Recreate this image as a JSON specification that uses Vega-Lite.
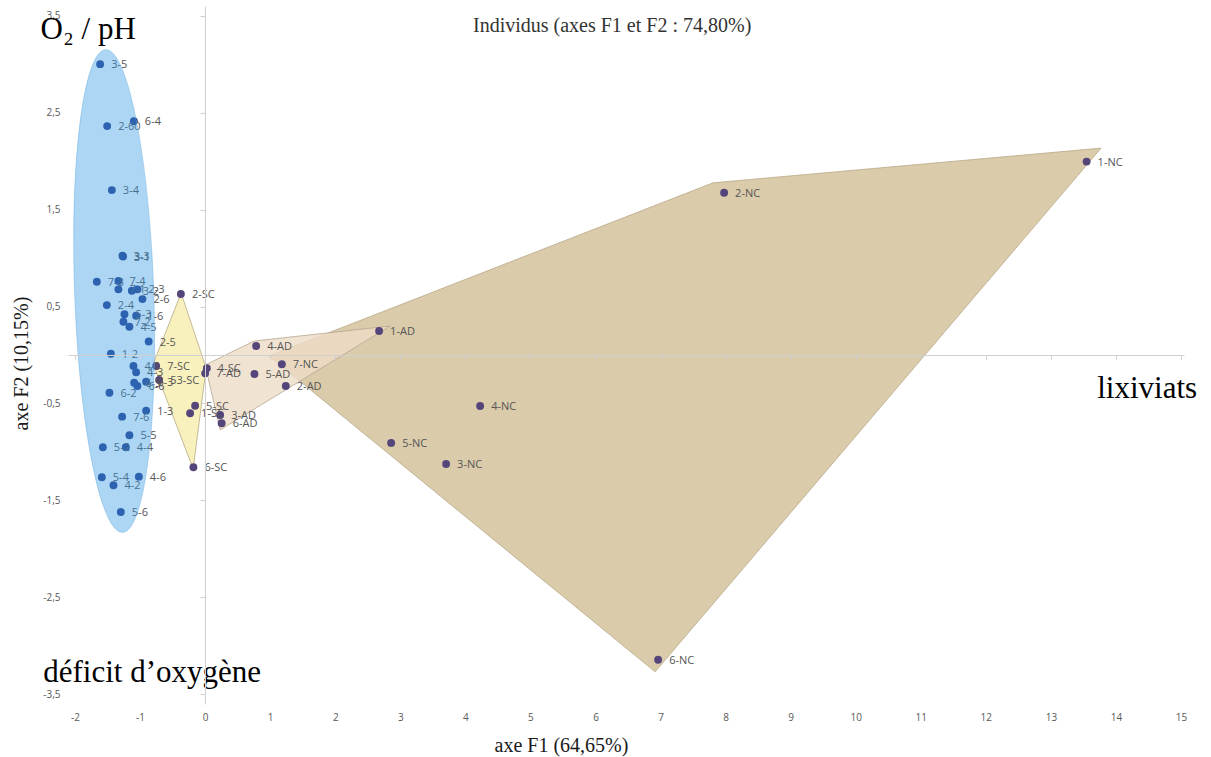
{
  "$schema": "https://vega.github.io/schema/vega-lite/v6.json",
  "width": 1116,
  "height": 698,
  "autosize": "none",
  "padding": {"left": 68, "top": 6, "right": 27, "bottom": 53},
  "background": "white",
  "config": {"view": {"stroke": null}, "axis": {"grid": false}},
  "datasets": {
    "points": [
      {"label": "3-5", "type": "sol", "F1": -1.614, "F2": 3.000},
      {"label": "2-60", "type": "sol", "F1": -1.506, "F2": 2.361},
      {"label": "6-4", "type": "sol", "F1": -1.096, "F2": 2.412},
      {"label": "3-4", "type": "sol", "F1": -1.434, "F2": 1.701},
      {"label": "3-3", "type": "sol", "F1": -1.271, "F2": 1.024},
      {"label": "3-1", "type": "sol", "F1": -1.262, "F2": 1.016},
      {"label": "7-3", "type": "sol", "F1": -1.665, "F2": 0.756},
      {"label": "7-4", "type": "sol", "F1": -1.333, "F2": 0.763},
      {"label": "7-1", "type": "sol", "F1": -1.333, "F2": 0.677},
      {"label": "3-2", "type": "sol", "F1": -1.127, "F2": 0.663},
      {"label": "2-3", "type": "sol", "F1": -1.040, "F2": 0.677},
      {"label": "2-6", "type": "sol", "F1": -0.964, "F2": 0.577},
      {"label": "2-4", "type": "sol", "F1": -1.511, "F2": 0.515},
      {"label": "5-3", "type": "sol", "F1": -1.240, "F2": 0.420},
      {"label": "1-6", "type": "sol", "F1": -1.061, "F2": 0.405},
      {"label": "7-2", "type": "sol", "F1": -1.256, "F2": 0.343},
      {"label": "4-5", "type": "sol", "F1": -1.164, "F2": 0.292},
      {"label": "2-5", "type": "sol", "F1": -0.868, "F2": 0.139},
      {"label": "1-2", "type": "sol", "F1": -1.449, "F2": 0.013},
      {"label": "4-1", "type": "sol", "F1": -1.102, "F2": -0.113},
      {"label": "4-3", "type": "sol", "F1": -1.061, "F2": -0.178},
      {"label": "6-3", "type": "sol", "F1": -0.907, "F2": -0.275},
      {"label": "6-5", "type": "sol", "F1": -1.091, "F2": -0.286},
      {"label": "6-6", "type": "sol", "F1": -1.041, "F2": -0.320},
      {"label": "6-2", "type": "sol", "F1": -1.471, "F2": -0.389},
      {"label": "1-3", "type": "sol", "F1": -0.907, "F2": -0.574},
      {"label": "7-6", "type": "sol", "F1": -1.276, "F2": -0.636},
      {"label": "5-5", "type": "sol", "F1": -1.164, "F2": -0.828},
      {"label": "5-2", "type": "sol", "F1": -1.572, "F2": -0.952},
      {"label": "4-4", "type": "sol", "F1": -1.219, "F2": -0.952},
      {"label": "5-4", "type": "sol", "F1": -1.588, "F2": -1.261},
      {"label": "4-2", "type": "sol", "F1": -1.409, "F2": -1.343},
      {"label": "4-6", "type": "sol", "F1": -1.019, "F2": -1.255},
      {"label": "5-6", "type": "sol", "F1": -1.296, "F2": -1.619},
      {"label": "2-SC", "type": "lixiviat", "F1": -0.373, "F2": 0.629},
      {"label": "7-SC", "type": "lixiviat", "F1": -0.753, "F2": -0.113},
      {"label": "53-SC", "type": "lixiviat", "F1": -0.707, "F2": -0.258},
      {"label": "4-SC", "type": "lixiviat", "F1": 0.026, "F2": -0.137},
      {"label": "5-SC", "type": "lixiviat", "F1": -0.154, "F2": -0.523},
      {"label": "1-SC", "type": "lixiviat", "F1": -0.231, "F2": -0.601},
      {"label": "6-SC", "type": "lixiviat", "F1": -0.180, "F2": -1.158},
      {"label": "1-AD", "type": "lixiviat", "F1": 2.674, "F2": 0.247},
      {"label": "4-AD", "type": "lixiviat", "F1": 0.784, "F2": 0.093},
      {"label": "7-AD", "type": "lixiviat", "F1": 0.000, "F2": -0.189},
      {"label": "5-AD", "type": "lixiviat", "F1": 0.758, "F2": -0.196},
      {"label": "2-AD", "type": "lixiviat", "F1": 1.240, "F2": -0.320},
      {"label": "3-AD", "type": "lixiviat", "F1": 0.231, "F2": -0.619},
      {"label": "6-AD", "type": "lixiviat", "F1": 0.254, "F2": -0.704},
      {"label": "1-NC", "type": "lixiviat", "F1": 13.549, "F2": 1.995},
      {"label": "2-NC", "type": "lixiviat", "F1": 7.977, "F2": 1.673},
      {"label": "7-NC", "type": "lixiviat", "F1": 1.179, "F2": -0.096},
      {"label": "4-NC", "type": "lixiviat", "F1": 4.227, "F2": -0.526},
      {"label": "5-NC", "type": "lixiviat", "F1": 2.859, "F2": -0.907},
      {"label": "3-NC", "type": "lixiviat", "F1": 3.704, "F2": -1.124},
      {"label": "6-NC", "type": "lixiviat", "F1": 6.963, "F2": -3.144}
    ],
    "hulls": [
      {"grp": "NC", "ord": 1, "F1": 0.984, "F2": -0.010},
      {"grp": "NC", "ord": 2, "F1": 7.808, "F2": 1.776},
      {"grp": "NC", "ord": 3, "F1": 13.772, "F2": 2.134},
      {"grp": "NC", "ord": 4, "F1": 6.917, "F2": -3.268},
      {"grp": "AD", "ord": 1, "F1": 0.000, "F2": -0.103},
      {"grp": "AD", "ord": 2, "F1": 0.753, "F2": 0.144},
      {"grp": "AD", "ord": 3, "F1": 2.844, "F2": 0.299},
      {"grp": "AD", "ord": 4, "F1": 0.231, "F2": -0.773},
      {"grp": "SC", "ord": 1, "F1": -0.369, "F2": 0.639},
      {"grp": "SC", "ord": 2, "F1": 0.015, "F2": -0.134},
      {"grp": "SC", "ord": 3, "F1": -0.184, "F2": -1.175},
      {"grp": "SC", "ord": 4, "F1": -0.799, "F2": -0.093}
    ],
    "ellipse": [{"grp": "sols", "F1": -1.399, "F2": 0.660}],
    "notes": [
      {"text": "O₂ / pH", "F1": -1.798, "F2": 3.258},
      {"text": "déficit d’oxygène", "F1": -0.815, "F2": -3.371},
      {"text": "lixiviats", "F1": 14.479, "F2": -0.443}
    ],
    "heading": [
      {"text": "Individus (axes F1 et F2 : 74,80%)", "F1": 6.256, "F2": 3.330}
    ]
  },
  "resolve": {"axis": {"x": "independent", "y": "independent"}},
  "layer": [
    {
      "data": {"name": "hulls"},
      "transform": [{"filter": "datum.grp === 'NC'"}],
      "mark": {"type": "line", "interpolate": "linear-closed", "fill": "#dacbab", "fillOpacity": 1, "stroke": "#b9a888", "strokeWidth": 0.8},
      "encoding": {
        "x": {"field": "F1", "type": "quantitative", "scale": {"domain": [-2.108, 15.046], "nice": false, "zero": false},
          "axis": {"orient": "bottom", "domain": false, "ticks": false, "grid": false,
            "values": [-2, -1, 0, 1, 2, 3, 4, 5, 6, 7, 8, 9, 10, 11, 12, 13, 14, 15],
            "labelExpr": "(datum.value < 0 ? '-' : '') + format(abs(datum.value), 'd')",
            "labelFont": "Open Sans", "labelFontSize": 10, "labelColor": "#595959", "labelPadding": 8, "labelFlush": false, "labelOverlap": false,
            "title": "axe F1 (64,65%)", "titleFont": "Liberation Serif", "titleFontSize": 20, "titleFontWeight": "normal", "titleColor": "#1a1a1a",
            "titleX": 493, "titleY": 47, "titleAlign": "center", "titleBaseline": "alphabetic"}},
        "y": {"field": "F2", "type": "quantitative", "scale": {"domain": [-3.6, 3.6], "nice": false, "zero": false},
          "axis": {"orient": "left", "domain": false, "ticks": false, "grid": false,
            "values": [-3.5, -2.5, -1.5, -0.5, 0.5, 1.5, 2.5, 3.5],
            "labelExpr": "(datum.value < 0 ? '-' : '') + replace(format(abs(datum.value), '.1f'), '.', ',')",
            "labelFont": "Open Sans", "labelFontSize": 10, "labelColor": "#595959", "labelPadding": 8, "labelFlush": false, "labelOverlap": false,
            "title": "axe F2 (10,15%)", "titleFont": "Liberation Serif", "titleFontSize": 20, "titleFontWeight": "normal", "titleColor": "#1a1a1a",
            "titleX": -41, "titleY": 357, "titleAngle": 270, "titleAlign": "center", "titleBaseline": "alphabetic"}},
        "order": {"field": "ord", "type": "quantitative"}
      }
    },
    {
      "data": {"name": "hulls"},
      "transform": [{"filter": "datum.grp === 'SC'"}],
      "mark": {"type": "line", "interpolate": "linear-closed", "fill": "#f8efb6", "fillOpacity": 0.9, "stroke": "#b5aa85", "strokeWidth": 0.8},
      "encoding": {
        "x": {"field": "F1", "type": "quantitative", "scale": {"domain": [-2.108, 15.046], "nice": false, "zero": false}, "axis": null},
        "y": {"field": "F2", "type": "quantitative", "scale": {"domain": [-3.6, 3.6], "nice": false, "zero": false}, "axis": null},
        "order": {"field": "ord", "type": "quantitative"}
      }
    },
    {
      "data": {"name": "hulls"},
      "transform": [{"filter": "datum.grp === 'AD'"}],
      "mark": {"type": "line", "interpolate": "linear-closed", "fill": "#eedcc5", "fillOpacity": 0.8, "stroke": "#b8a792", "strokeWidth": 0.8},
      "encoding": {
        "x": {"field": "F1", "type": "quantitative", "scale": {"domain": [-2.108, 15.046], "nice": false, "zero": false}, "axis": null},
        "y": {"field": "F2", "type": "quantitative", "scale": {"domain": [-3.6, 3.6], "nice": false, "zero": false}, "axis": null},
        "order": {"field": "ord", "type": "quantitative"}
      }
    },
    {
      "data": {"name": "points"},
      "mark": {"type": "circle", "size": 62, "opacity": 1},
      "encoding": {
        "x": {"field": "F1", "type": "quantitative", "scale": {"domain": [-2.108, 15.046], "nice": false, "zero": false},
          "axis": {"orient": "bottom", "offset": -349, "labels": false, "title": null, "grid": false, "domain": true, "domainColor": "#d0d0d0", "domainWidth": 1,
            "ticks": true, "tickColor": "#d0d0d0", "tickSize": 4, "tickWidth": 1, "zindex": 1,
            "values": [-2, -1, 0, 1, 2, 3, 4, 5, 6, 7, 8, 9, 10, 11, 12, 13, 14, 15]}},
        "y": {"field": "F2", "type": "quantitative", "scale": {"domain": [-3.6, 3.6], "nice": false, "zero": false},
          "axis": {"orient": "left", "offset": -137, "labels": false, "title": null, "grid": false, "domain": true, "domainColor": "#d0d0d0", "domainWidth": 1,
            "ticks": true, "tickColor": "#d0d0d0", "tickSize": 5, "tickWidth": 1, "zindex": 1,
            "values": [-3.5, -2.5, -1.5, -0.5, 0.5, 1.5, 2.5, 3.5]}},
        "color": {"field": "type", "type": "nominal", "scale": {"domain": ["sol", "lixiviat"], "range": ["#2a3f8c", "#54467a"]}, "legend": null}
      }
    },
    {
      "data": {"name": "points"},
      "mark": {"type": "text", "align": "left", "baseline": "middle", "dx": 11, "dy": 1, "font": "Open Sans", "fontSize": 11, "color": "#555555"},
      "encoding": {
        "x": {"field": "F1", "type": "quantitative", "scale": {"domain": [-2.108, 15.046], "nice": false, "zero": false}, "axis": null},
        "y": {"field": "F2", "type": "quantitative", "scale": {"domain": [-3.6, 3.6], "nice": false, "zero": false}, "axis": null},
        "text": {"field": "label", "type": "nominal"}
      }
    },
    {
      "data": {"name": "ellipse"},
      "mark": {"type": "point", "shape": "M 0 -1 C 0.0904 -1 0.1636 -0.5523 0.1636 0 C 0.1636 0.5523 0.0904 1 0 1 C -0.0904 1 -0.1636 0.5523 -0.1636 0 C -0.1636 -0.5523 -0.0904 -1 0 -1 Z",
        "size": 233289, "filled": true, "fill": "#3298e6", "fillOpacity": 0.4, "opacity": 1, "stroke": "#6aaee0", "strokeWidth": 0.8, "strokeOpacity": 0.6, "angle": 358},
      "encoding": {
        "x": {"field": "F1", "type": "quantitative", "scale": {"domain": [-2.108, 15.046], "nice": false, "zero": false}, "axis": null},
        "y": {"field": "F2", "type": "quantitative", "scale": {"domain": [-3.6, 3.6], "nice": false, "zero": false}, "axis": null}
      }
    },
    {
      "data": {"name": "notes"},
      "mark": {"type": "text", "align": "center", "baseline": "alphabetic", "font": "Liberation Serif", "fontSize": 31, "color": "#000000"},
      "encoding": {
        "x": {"field": "F1", "type": "quantitative", "scale": {"domain": [-2.108, 15.046], "nice": false, "zero": false}, "axis": null},
        "y": {"field": "F2", "type": "quantitative", "scale": {"domain": [-3.6, 3.6], "nice": false, "zero": false}, "axis": null},
        "text": {"field": "text", "type": "nominal"}
      }
    },
    {
      "data": {"name": "heading"},
      "mark": {"type": "text", "align": "center", "baseline": "alphabetic", "font": "Liberation Serif", "fontSize": 20, "color": "#333333"},
      "encoding": {
        "x": {"field": "F1", "type": "quantitative", "scale": {"domain": [-2.108, 15.046], "nice": false, "zero": false}, "axis": null},
        "y": {"field": "F2", "type": "quantitative", "scale": {"domain": [-3.6, 3.6], "nice": false, "zero": false}, "axis": null},
        "text": {"field": "text", "type": "nominal"}
      }
    }
  ]
}
